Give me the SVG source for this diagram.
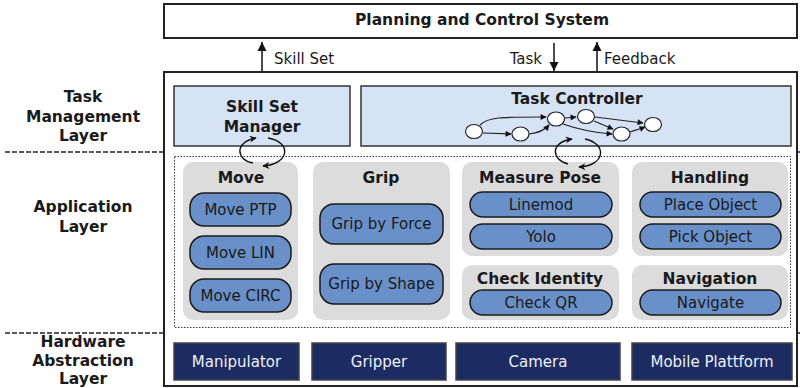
<svg xmlns="http://www.w3.org/2000/svg" width="800" height="388" viewBox="0 0 800 388">
  <defs>
    <marker id="bigHead" viewBox="0 0 10 10" refX="10" refY="5" markerWidth="9" markerHeight="11" markerUnits="userSpaceOnUse" orient="auto">
      <path d="M0,0 L10,5 L0,10 Z" fill="#111"/>
    </marker>
    <marker id="smallHead" viewBox="0 0 10 10" refX="9" refY="5" markerWidth="7" markerHeight="6" markerUnits="userSpaceOnUse" orient="auto">
      <path d="M0,0 L10,5 L0,10 Z" fill="#111"/>
    </marker>
    <marker id="loopHead" viewBox="0 0 10 10" refX="9" refY="5" markerWidth="9" markerHeight="7" markerUnits="userSpaceOnUse" orient="auto">
      <path d="M0,0 L10,5 L0,10 L3,5 Z" fill="#111"/>
    </marker>
  </defs>
  <style>
    text { font-family: "DejaVu Sans", Verdana, sans-serif; fill: #1a1a1a; text-anchor: middle; }
    .title { font-size: 15.5px; font-weight: bold; }
    .layer { font-size: 15.5px; font-weight: bold; }
    .lbl { font-size: 15px; }
    .frame { fill: #ffffff; stroke: #222; stroke-width: 2; }
    .mgmt { fill: #d6e3f5; stroke: #333; stroke-width: 1.5; }
    .panel { fill: #dcdcdc; }
    .pill { fill: #6990c8; stroke: #1a1a1a; stroke-width: 1.5; }
    .pilltext { font-size: 15px; }
    .hw { fill: #1c2c62; stroke: #444; stroke-width: 1.5; }
    .hwtext { font-size: 15px; fill: #eef0f5; }
    .sep { stroke: #222; stroke-width: 1.5; stroke-dasharray: 5 2; }
    .dotted { fill: none; stroke: #333; stroke-width: 1; stroke-dasharray: 1.5 1.5; }
    .tnode { fill: #ffffff; stroke: #222; stroke-width: 1.2; }
    .tedge { fill: none; stroke: #222; stroke-width: 1.2; marker-end: url(#smallHead); }
    .loop { fill: none; stroke: #111; stroke-width: 1.4; marker-end: url(#loopHead); }
    .flow { stroke: #111; stroke-width: 1.5; marker-end: url(#bigHead); }
  </style>

  <!-- layer separators -->
  <line class="sep" x1="5" y1="152" x2="800" y2="152"/>
  <line class="sep" x1="5" y1="333" x2="800" y2="333"/>

  <!-- layer captions -->
  <text class="layer" x="83" y="102">Task</text>
  <text class="layer" x="83" y="122">Management</text>
  <text class="layer" x="83" y="141">Layer</text>
  <text class="layer" x="83" y="212">Application</text>
  <text class="layer" x="83" y="232">Layer</text>
  <text class="layer" x="83" y="347">Hardware</text>
  <text class="layer" x="83" y="366">Abstraction</text>
  <text class="layer" x="83" y="384">Layer</text>

  <!-- planning system -->
  <g id="planning">
    <rect class="frame" x="164" y="4" width="633" height="34"/>
    <text class="title" x="482" y="25">Planning and Control System</text>
  </g>

  <!-- robot system frame -->
  <g id="system">
    <rect class="frame" x="164" y="72" width="633" height="314"/>
    <rect class="dotted" x="174.5" y="156.5" width="616" height="171"/>
  </g>

  <g id="skill-set-manager">
    <rect class="mgmt" x="174" y="86" width="176" height="60"/>
    <text class="title" x="262" y="112">Skill Set</text>
    <text class="title" x="262" y="132">Manager</text>
  </g>

  <g id="task-controller">
    <rect class="mgmt" x="361" y="86" width="430" height="60"/>
    <text class="title" x="577" y="104">Task Controller</text>
    <g id="task-graph">
      <path class="tedge" d="M480,125 C488,117 500,117 546,117"/>
      <path class="tedge" d="M483,133 L511,134"/>
      <path class="tedge" d="M529,134 C538,133 544,131 549,125"/>
      <path class="tedge" d="M565,118 L576,117"/>
      <path class="tedge" d="M563,124 C580,130 598,133 612,134"/>
      <path class="tedge" d="M594,121 L613,129"/>
      <path class="tedge" d="M595,117 L643,123"/>
      <path class="tedge" d="M630,132 C636,130 640,129 645,127"/>
      <ellipse class="tnode" cx="474" cy="131.5" rx="8.5" ry="7"/>
      <ellipse class="tnode" cx="520.5" cy="134" rx="8.5" ry="7"/>
      <ellipse class="tnode" cx="556" cy="119" rx="8.5" ry="7"/>
      <ellipse class="tnode" cx="586" cy="116.5" rx="8.5" ry="7"/>
      <ellipse class="tnode" cx="621.5" cy="134" rx="8.5" ry="7"/>
      <ellipse class="tnode" cx="653" cy="124.5" rx="8.5" ry="7"/>
    </g>
  </g>

  <!-- application layer: skill groups -->
  <g id="move">
    <rect class="panel" x="183" y="162" width="115" height="158" rx="10"/>
    <text class="title" x="241" y="183">Move</text>
    <rect class="pill" x="190" y="193" width="101" height="33" rx="14"/>
    <text class="pilltext" x="240.5" y="215">Move PTP</text>
    <rect class="pill" x="190" y="236" width="101" height="33" rx="14"/>
    <text class="pilltext" x="240.5" y="258">Move LIN</text>
    <rect class="pill" x="190" y="279" width="101" height="33" rx="14"/>
    <text class="pilltext" x="240.5" y="301">Move CIRC</text>
  </g>

  <g id="grip">
    <rect class="panel" x="313" y="162" width="137" height="158" rx="10"/>
    <text class="title" x="381" y="183">Grip</text>
    <rect class="pill" x="320" y="204" width="123" height="40" rx="14"/>
    <text class="pilltext" x="381.5" y="229">Grip by Force</text>
    <rect class="pill" x="320" y="264" width="123" height="40" rx="14"/>
    <text class="pilltext" x="381.5" y="289">Grip by Shape</text>
  </g>

  <g id="measure-pose">
    <rect class="panel" x="462" y="162" width="157" height="94" rx="10"/>
    <text class="title" x="540" y="183">Measure Pose</text>
    <rect class="pill" x="470" y="192" width="142" height="25" rx="12.5"/>
    <text class="pilltext" x="541" y="210">Linemod</text>
    <rect class="pill" x="470" y="224" width="142" height="25" rx="12.5"/>
    <text class="pilltext" x="541" y="242">Yolo</text>
  </g>

  <g id="handling">
    <rect class="panel" x="632" y="162" width="156" height="94" rx="10"/>
    <text class="title" x="710" y="183">Handling</text>
    <rect class="pill" x="640" y="192" width="141" height="25" rx="12.5"/>
    <text class="pilltext" x="710.5" y="210">Place Object</text>
    <rect class="pill" x="640" y="224" width="141" height="25" rx="12.5"/>
    <text class="pilltext" x="710.5" y="242">Pick Object</text>
  </g>

  <g id="check-identity">
    <rect class="panel" x="462" y="265" width="157" height="55" rx="10"/>
    <text class="title" x="540" y="284">Check Identity</text>
    <rect class="pill" x="470" y="290" width="142" height="25" rx="12.5"/>
    <text class="pilltext" x="541" y="308">Check QR</text>
  </g>

  <g id="navigation">
    <rect class="panel" x="632" y="265" width="156" height="55" rx="10"/>
    <text class="title" x="710" y="284">Navigation</text>
    <rect class="pill" x="640" y="290" width="141" height="25" rx="12.5"/>
    <text class="pilltext" x="710.5" y="308">Navigate</text>
  </g>

  <!-- hardware abstraction layer -->
  <g id="manipulator">
    <rect class="hw" x="174" y="343" width="125" height="37"/>
    <text class="hwtext" x="236.5" y="367">Manipulator</text>
  </g>
  <g id="gripper">
    <rect class="hw" x="312" y="343" width="134" height="37"/>
    <text class="hwtext" x="379" y="367">Gripper</text>
  </g>
  <g id="camera">
    <rect class="hw" x="456" y="343" width="164" height="37"/>
    <text class="hwtext" x="538" y="367">Camera</text>
  </g>
  <g id="mobile-platform">
    <rect class="hw" x="632" y="343" width="160" height="37"/>
    <text class="hwtext" x="712" y="367">Mobile Plattform</text>
  </g>

  <!-- connectors -->
  <g id="connectors">
    <line class="flow" x1="262" y1="71" x2="262" y2="42"/>
    <text class="lbl" x="274" y="64" style="text-anchor:start">Skill Set</text>
    <line class="flow" x1="554" y1="43" x2="554" y2="71"/>
    <text class="lbl" x="542" y="64" style="text-anchor:end">Task</text>
    <line class="flow" x1="597" y1="71" x2="597" y2="42"/>
    <text class="lbl" x="604" y="64" style="text-anchor:start">Feedback</text>

    <!-- exchange loops between layers -->
    <path class="loop" d="M253,163 C236,160 234,142 256,138"/>
    <path class="loop" d="M268,138 C292,142 290,164 263,166"/>
    <path class="loop" d="M568,164 C551,160 550,142 572,139"/>
    <path class="loop" d="M585,139 C608,144 605,166 579,167"/>
  </g>
</svg>
